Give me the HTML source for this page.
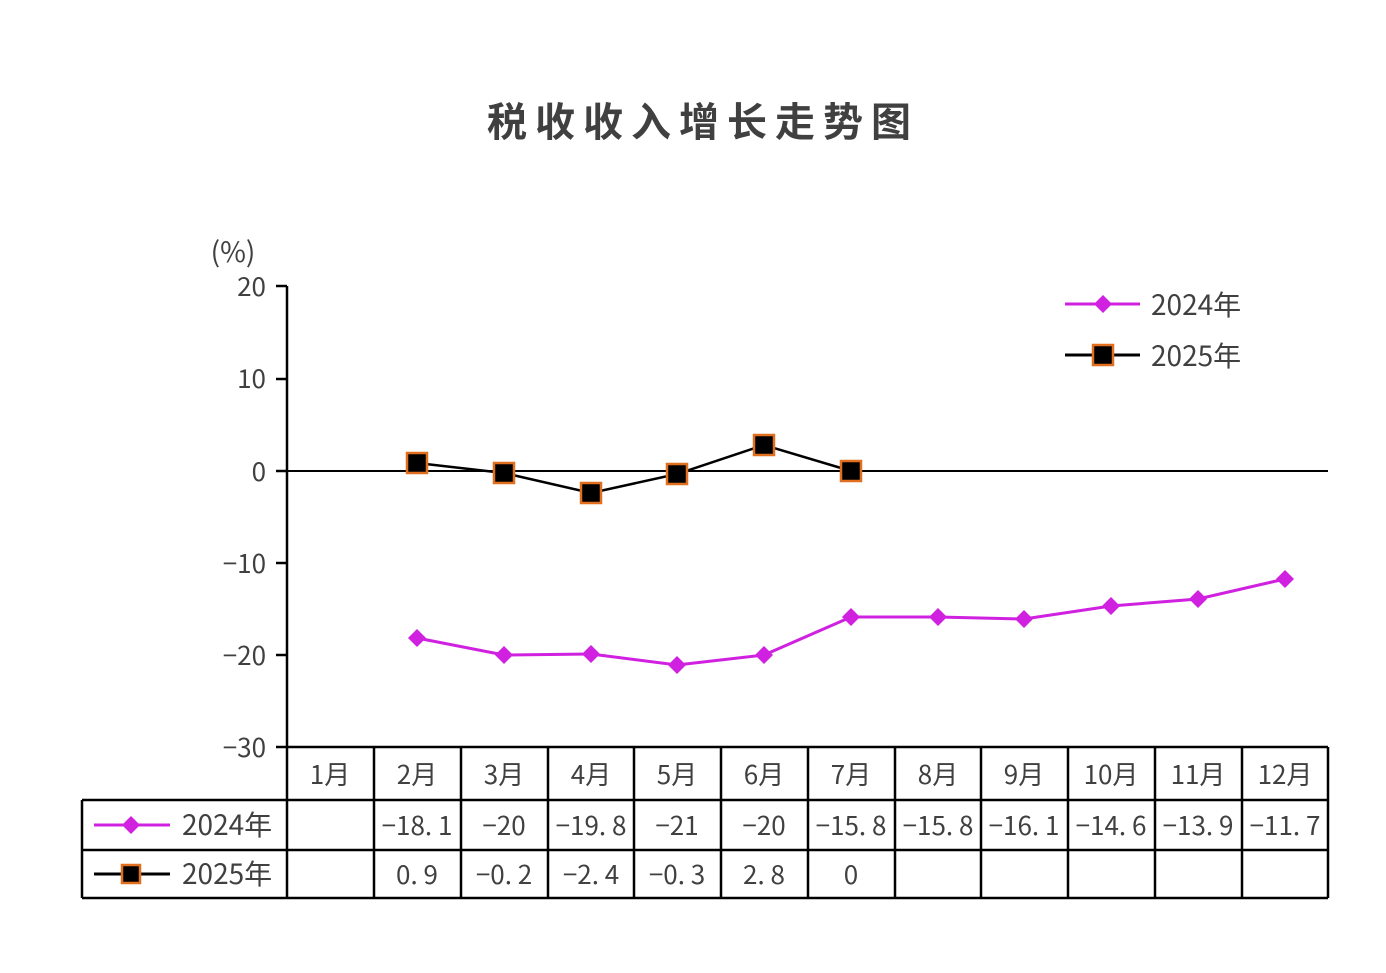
<!DOCTYPE html>
<html><head><meta charset="utf-8"><style>
body{margin:0;background:#fff;}
svg text{font-family:"Noto Sans CJK SC","Liberation Sans",sans-serif;fill:#404040;}
</style></head><body>
<svg width="1386" height="968" xmlns="http://www.w3.org/2000/svg">
<text x="703" y="136" font-size="40" font-weight="bold" text-anchor="middle" fill="#555" letter-spacing="8">税收收入增长走势图</text>
<text x="233" y="262" font-size="28" text-anchor="middle">(%)</text>
<g font-size="26" text-anchor="end">
<text x="266" y="296">20</text><text x="266" y="388">10</text><text x="266" y="481">0</text>
<text x="266" y="573">−10</text><text x="266" y="665">−20</text><text x="266" y="757">−30</text>
</g>
<g stroke="#000" stroke-width="2.5">
<line x1="287" y1="286" x2="287" y2="898"/>
<line x1="276" y1="286" x2="287" y2="286"/><line x1="276" y1="379" x2="287" y2="379"/>
<line x1="276" y1="471" x2="287" y2="471"/><line x1="276" y1="563" x2="287" y2="563"/>
<line x1="276" y1="655" x2="287" y2="655"/><line x1="276" y1="747" x2="1328" y2="747"/>
<line x1="287" y1="471" x2="1328" y2="471" stroke-width="2"/>
<line x1="82" y1="800" x2="1328" y2="800"/><line x1="82" y1="850" x2="1328" y2="850"/><line x1="82" y1="898" x2="1328" y2="898"/>
<line x1="82" y1="800" x2="82" y2="898"/>
<line x1="374" y1="747" x2="374" y2="898"/><line x1="461" y1="747" x2="461" y2="898"/><line x1="548" y1="747" x2="548" y2="898"/>
<line x1="634" y1="747" x2="634" y2="898"/><line x1="721" y1="747" x2="721" y2="898"/><line x1="808" y1="747" x2="808" y2="898"/>
<line x1="895" y1="747" x2="895" y2="898"/><line x1="981" y1="747" x2="981" y2="898"/><line x1="1068" y1="747" x2="1068" y2="898"/>
<line x1="1155" y1="747" x2="1155" y2="898"/><line x1="1242" y1="747" x2="1242" y2="898"/><line x1="1328" y1="747" x2="1328" y2="898"/>
</g>
<g font-size="26" text-anchor="middle">
<text x="330" y="784">1月</text><text x="417" y="784">2月</text><text x="504" y="784">3月</text><text x="591" y="784">4月</text>
<text x="677" y="784">5月</text><text x="764" y="784">6月</text><text x="851" y="784">7月</text><text x="938" y="784">8月</text>
<text x="1024" y="784">9月</text><text x="1111" y="784">10月</text><text x="1198" y="784">11月</text><text x="1285" y="784">12月</text>
<text x="417" y="835">−18. 1</text><text x="504" y="835">−20</text><text x="591" y="835">−19. 8</text><text x="677" y="835">−21</text>
<text x="764" y="835">−20</text><text x="851" y="835">−15. 8</text><text x="938" y="835">−15. 8</text><text x="1024" y="835">−16. 1</text>
<text x="1111" y="835">−14. 6</text><text x="1198" y="835">−13. 9</text><text x="1285" y="835">−11. 7</text>
<text x="417" y="884">0. 9</text><text x="504" y="884">−0. 2</text><text x="591" y="884">−2. 4</text><text x="677" y="884">−0. 3</text>
<text x="764" y="884">2. 8</text><text x="851" y="884">0</text>
</g>
<g font-size="28">
<text x="182" y="835">2024年</text><text x="182" y="884">2025年</text>
<text x="1151" y="315">2024年</text><text x="1151" y="366">2025年</text>
</g>
<line x1="94" y1="825" x2="170" y2="825" stroke="#d020e0" stroke-width="3"/>
<path d="M131 816l9 9-9 9-9-9z" fill="#d020e0"/>
<line x1="94" y1="874" x2="170" y2="874" stroke="#000" stroke-width="3"/>
<rect x="122" y="865" width="18" height="18" fill="#000" stroke="#e07020" stroke-width="2.5"/>
<line x1="1065" y1="304" x2="1140" y2="304" stroke="#d020e0" stroke-width="3"/>
<path d="M1103 295l9 9-9 9-9-9z" fill="#d020e0"/>
<line x1="1065" y1="355" x2="1140" y2="355" stroke="#000" stroke-width="3"/>
<rect x="1093" y="345" width="20" height="20" fill="#000" stroke="#e07020" stroke-width="2.5"/>
<polyline fill="none" stroke="#d020e0" stroke-width="3" points="417,638 504,655 591,654 677,665 764,655 851,617 938,617 1024,619 1111,606 1198,599 1285,579"/>
<g fill="#d020e0">
<path d="M417 629l9 9-9 9-9-9z"/><path d="M504 646l9 9-9 9-9-9z"/><path d="M591 645l9 9-9 9-9-9z"/>
<path d="M677 656l9 9-9 9-9-9z"/><path d="M764 646l9 9-9 9-9-9z"/><path d="M851 608l9 9-9 9-9-9z"/>
<path d="M938 608l9 9-9 9-9-9z"/><path d="M1024 610l9 9-9 9-9-9z"/><path d="M1111 597l9 9-9 9-9-9z"/>
<path d="M1198 590l9 9-9 9-9-9z"/><path d="M1285 570l9 9-9 9-9-9z"/>
</g>
<polyline fill="none" stroke="#000" stroke-width="2.5" points="417,463 504,473 591,493 677,474 764,445 851,471"/>
<g fill="#000" stroke="#e07020" stroke-width="2.5">
<rect x="407" y="453" width="20" height="20"/><rect x="494" y="463" width="20" height="20"/><rect x="581" y="483" width="20" height="20"/>
<rect x="667" y="464" width="20" height="20"/><rect x="754" y="435" width="20" height="20"/><rect x="841" y="461" width="20" height="20"/>
</g>
</svg>
</body></html>
